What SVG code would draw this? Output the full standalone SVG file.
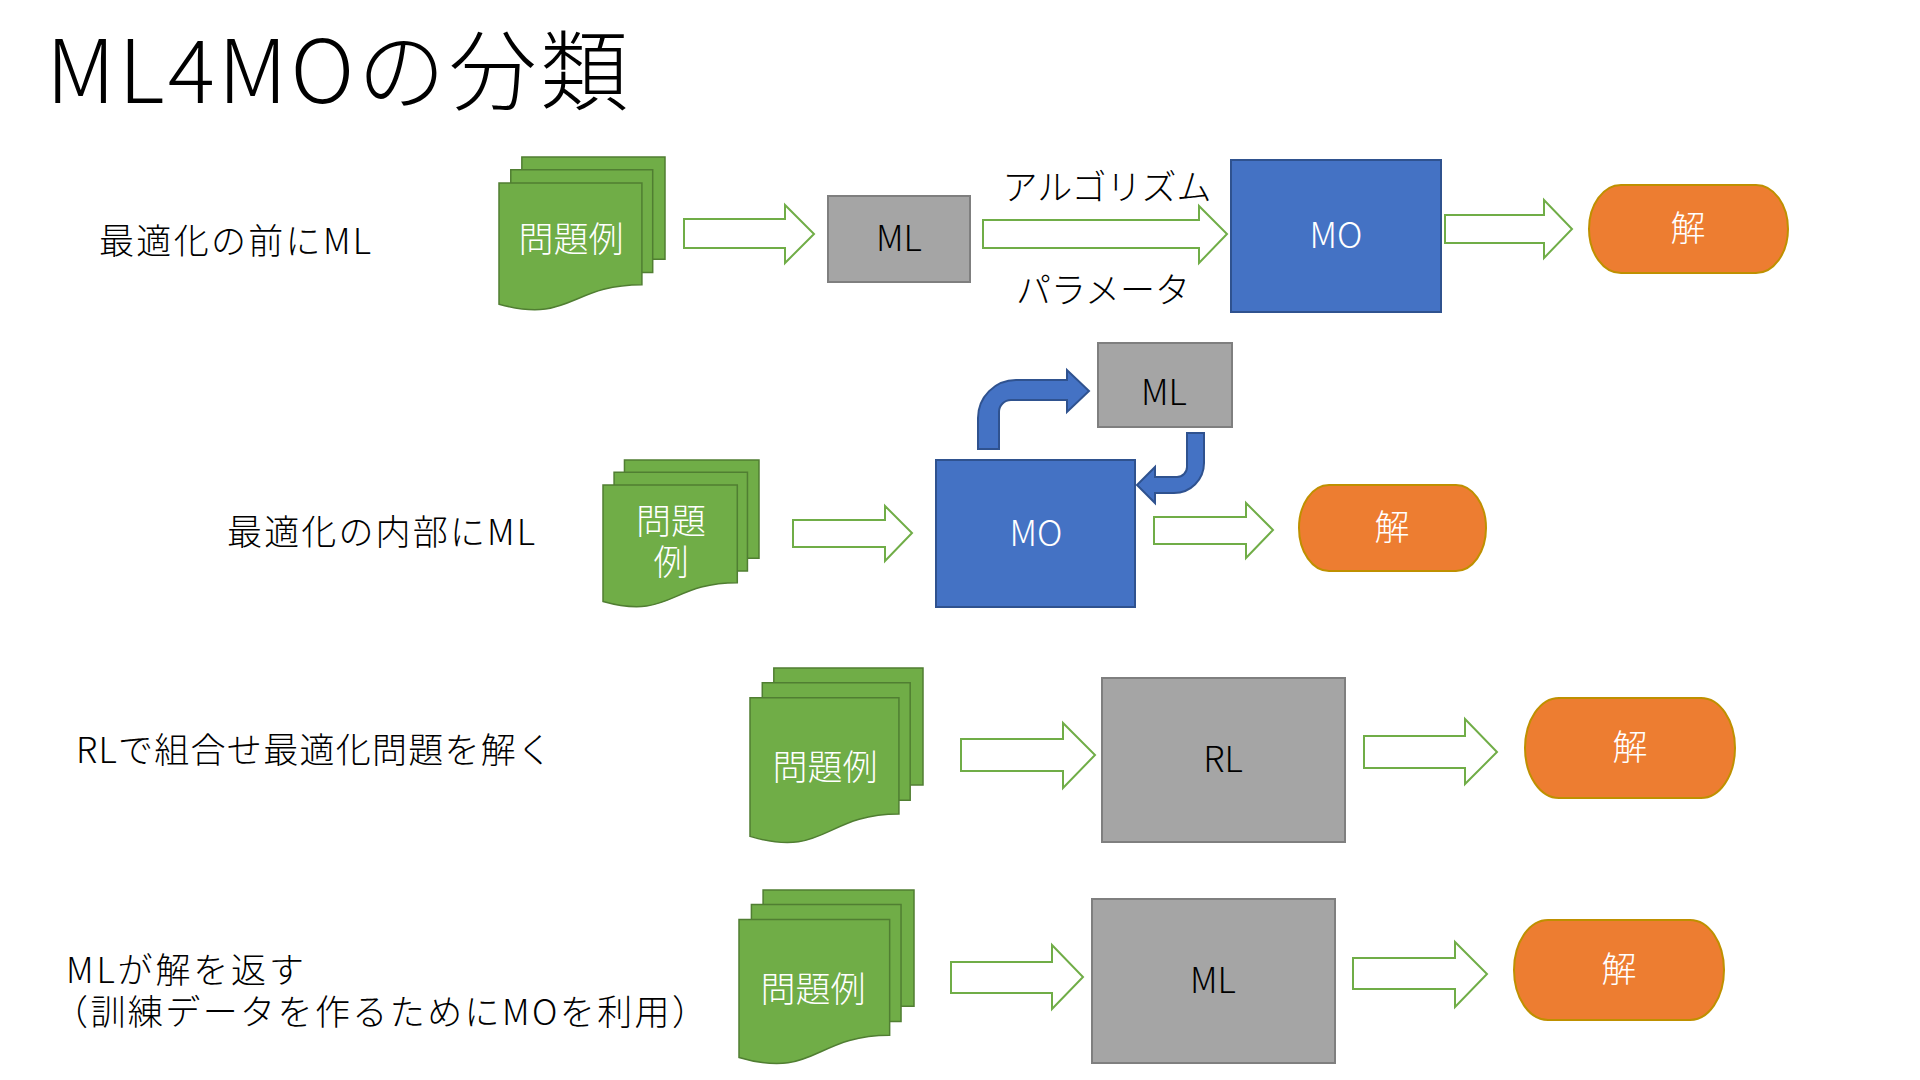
<svg xmlns="http://www.w3.org/2000/svg" xmlns:xlink="http://www.w3.org/1999/xlink" width="1920" height="1080" viewBox="0 0 1920 1080">
<style>
.t { font-family: "Noto Sans CJK JP", "Noto Sans", sans-serif; font-weight: 300; }
.title { font-size: 88px; fill: #000; }
.lbl { font-size: 35px; fill: #000; }
.nt { font-size: 35px; text-anchor: middle; }
.wt { fill: #fff; }
.bk { fill: #000; }
.doc { fill: #70AD47; stroke: #507E32; stroke-width: 1.5; vector-effect: non-scaling-stroke; }
.blk { fill: #fff; stroke: #70AD47; stroke-width: 2; }
.gray { fill: #A5A5A5; stroke: #7F7F7F; stroke-width: 2; }
.blue { fill: #4472C4; stroke: #2F528F; stroke-width: 2; }
.term { fill: #ED7D31; stroke: #BF9000; stroke-width: 2; }
</style>
<defs>
<g id="mdoc">
<rect class="doc" x="2972" y="0" width="18628" height="14430"/>
<rect class="doc" x="1532" y="1815" width="18468" height="14500"/>
<path class="doc" d="M0,20782 C9298,23542 9298,18022 18595,18022 V3675 H0 Z"/>
</g>
</defs>
<rect x="0" y="0" width="1920" height="1080" fill="#fff"/>

<text class="t title" x="46" y="103" textLength="582" lengthAdjust="spacing">ML4MOの分類</text>

<g id="labels">
<text class="t lbl" x="99" y="254" textLength="272" lengthAdjust="spacing">最適化の前にML</text>
<text class="t lbl" x="227" y="545" textLength="308" lengthAdjust="spacing">最適化の内部にML</text>
<text class="t lbl" x="76" y="763" textLength="476" lengthAdjust="spacing">RLで組合せ最適化問題を解く</text>
<text class="t lbl" x="66" y="983" textLength="238" lengthAdjust="spacing">MLが解を返す</text>
<text class="t lbl" x="53" y="1025" textLength="654" lengthAdjust="spacing">（訓練データを作るためにMOを利用）</text>
</g>

<g id="connectors">
<polygon class="blk" points="684,219 785,219 785,205 814,234 785,263 785,248 684,248"/>
<polygon class="blk" points="983,220 1199,220 1199,206 1227,234 1199,263 1199,248 983,248"/>
<polygon class="blk" points="1445,215 1544,215 1544,200 1572,229 1544,258 1544,243 1445,243"/>
<polygon class="blk" points="793,520 885,520 885,506 912,533 885,561 885,547 793,547"/>
<polygon class="blk" points="1154,517 1246,517 1246,503 1273,530 1246,558 1246,544 1154,544"/>
<polygon class="blk" points="961,739 1063,739 1063,723 1095,755 1063,788 1063,771 961,771"/>
<polygon class="blk" points="1364,736 1465,736 1465,719 1497,752 1465,784 1465,768 1364,768"/>
<polygon class="blk" points="951,962 1052,962 1052,945 1083,977 1052,1009 1052,993 951,993"/>
<polygon class="blk" points="1353,958 1455,958 1455,942 1487,974 1455,1007 1455,989 1353,989"/>
<path class="blue" d="M978,449 V418 A38,38 0 0 1 1016,380 H1067 V370 L1089,391 L1067,412 V400 H1011 A12,12 0 0 0 999,412 V449 Z"/>
<path class="blue" d="M1187,433 H1204 V463 A30,30 0 0 1 1174,493 H1155 V503 L1137,485 L1155,467 V477 H1177 A10,10 0 0 0 1187,467 Z"/>
<text class="t nt bk" x="1107" y="200">アルゴリズム</text>
<text class="t nt bk" x="1103" y="303">パラメータ</text>
</g>

<g id="row1">
<g id="doc1">
<use xlink:href="#mdoc" href="#mdoc" transform="translate(499,157) scale(0.0076852,0.0070833)"/>
<text class="t nt wt" x="571" y="252">問題例</text>
</g>
<g id="ml1"><rect class="gray" x="828" y="196" width="142" height="86"/><text class="t nt bk" x="899" y="251">ML</text></g>
<g id="mo1"><rect class="blue" x="1231" y="160" width="210" height="152"/><text class="t nt wt" x="1336" y="248">MO</text></g>
<g id="sol1"><rect class="term" x="1589" y="185" width="199" height="88" rx="32" ry="44"/><text class="t nt wt" x="1688" y="241">解</text></g>
</g>

<g id="row2">
<g id="doc2">
<use xlink:href="#mdoc" href="#mdoc" transform="translate(603,460) scale(0.0072222,0.0068056)"/>
<text class="t nt wt" x="671" y="534">問題</text>
<text class="t nt wt" x="671" y="575">例</text>
</g>
<g id="mo2"><rect class="blue" x="936" y="460" width="199" height="147"/><text class="t nt wt" x="1036" y="546">MO</text></g>
<g id="ml2"><rect class="gray" x="1098" y="343" width="134" height="84"/><text class="t nt bk" x="1164" y="405">ML</text></g>
<g id="sol2"><rect class="term" x="1299" y="485" width="187" height="86" rx="30" ry="43"/><text class="t nt wt" x="1392" y="540">解</text></g>
</g>

<g id="row3">
<g id="doc3">
<use xlink:href="#mdoc" href="#mdoc" transform="translate(750,668) scale(0.0080093,0.0081019)"/>
<text class="t nt wt" x="825" y="780">問題例</text>
</g>
<g id="rl3"><rect class="gray" x="1102" y="678" width="243" height="164"/><text class="t nt bk" x="1223" y="772">RL</text></g>
<g id="sol3"><rect class="term" x="1525" y="698" width="210" height="100" rx="34" ry="50"/><text class="t nt wt" x="1630" y="760">解</text></g>
</g>

<g id="row4">
<g id="doc4">
<use xlink:href="#mdoc" href="#mdoc" transform="translate(739,890) scale(0.0081019,0.0080556)"/>
<text class="t nt wt" x="813" y="1002">問題例</text>
</g>
<g id="ml4"><rect class="gray" x="1092" y="899" width="243" height="164"/><text class="t nt bk" x="1213" y="993">ML</text></g>
<g id="sol4"><rect class="term" x="1514" y="920" width="210" height="100" rx="34" ry="50"/><text class="t nt wt" x="1619" y="982">解</text></g>
</g>
</svg>
